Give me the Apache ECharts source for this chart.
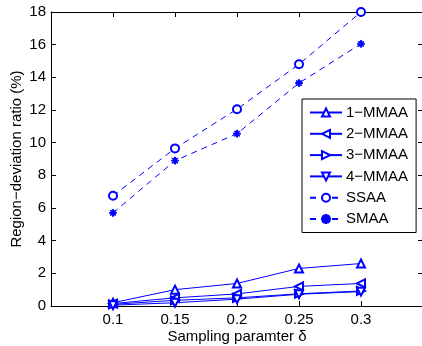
<!DOCTYPE html>
<html>
<head>
<meta charset="utf-8">
<script src="https://cdn.jsdelivr.net/npm/echarts@6/dist/echarts.min.js"></script>
<style>
html,body{margin:0;padding:0;background:#fff;}
#chart{width:422px;height:346px;}
</style>
</head>
<body>
<div id="chart"></div>
<script>
// ---- data ----
var xValues = [0.1, 0.15, 0.2, 0.25, 0.3];
var seriesNames = ['1\u2212MMAA', '2\u2212MMAA', '3\u2212MMAA', '4\u2212MMAA', 'SSAA', 'SMAA'];
var mmaa1 = [0.2, 1.0, 1.38, 2.3, 2.6];
var mmaa2 = [0.15, 0.5, 0.74, 1.2, 1.38];
var mmaa3 = [0.1, 0.35, 0.5, 0.75, 0.92];
var mmaa4 = [0.05, 0.2, 0.42, 0.72, 0.88];
var ssaa = [6.75, 9.65, 12.05, 14.8, 18.0];
var smaa = [5.7, 8.9, 10.55, 13.65, 16.05];
var xTicks = [0.1, 0.15, 0.2, 0.25, 0.3];
var yTicks = [0, 2, 4, 6, 8, 10, 12, 14, 16, 18];

// asterisk symbol shape
function asteriskPath() {
  var L = 10, w = 1.3, parts = [];
  [0, 45, 90, 135].forEach(function (deg) {
    var a = deg * Math.PI / 180, c = Math.cos(a), s = Math.sin(a);
    var p = [[-L, -w], [L, -w], [L, w], [-L, w]].map(function (q) {
      return (q[0] * c - q[1] * s).toFixed(2) + ',' + (q[0] * s + q[1] * c).toFixed(2);
    });
    parts.push('M' + p[0] + 'L' + p[1] + 'L' + p[2] + 'L' + p[3] + 'Z');
  });
  return 'path://' + parts.join('');
}

function pairs(arr) { return xValues.map(function (x, i) { return [x, arr[i]]; }); }

var BLUE = '#0000ff';
var FONT = 'Liberation Sans';
var defs = [
  { data: mmaa1, symbol: 'emptyTriangle', rot: 0, size: 8, dash: 'solid' },
  { data: mmaa2, symbol: 'emptyTriangle', rot: 90, size: 8, dash: 'solid' },
  { data: mmaa3, symbol: 'emptyTriangle', rot: -90, size: 8, dash: 'solid' },
  { data: mmaa4, symbol: 'emptyTriangle', rot: 180, size: 8, dash: 'solid' },
  { data: ssaa, symbol: 'emptyCircle', rot: 0, size: 8, dash: [6, 5] },
  { data: smaa, symbol: asteriskPath(), rot: 0, size: 7, dash: [6, 5] }
];

var series = defs.map(function (d, i) {
  return {
    name: seriesNames[i],
    type: 'line',
    data: pairs(d.data),
    symbol: d.symbol,
    symbolRotate: d.rot,
    symbolSize: d.size,
    showAllSymbol: true,
    lineStyle: { color: BLUE, width: 1, type: d.dash },
    itemStyle: { color: BLUE, borderColor: BLUE, borderWidth: 1 },
    emphasis: { disabled: true },
    animation: false,
    z: 2
  };
});

var chart = echarts.init(document.getElementById('chart'), null, { renderer: 'canvas' });
var axisCommon = {
  axisLine: { show: true, onZero: false, lineStyle: { color: '#000', width: 1 } },
  axisTick: { show: true, inside: true, length: 5, lineStyle: { color: '#000' } },
  splitLine: { show: false }
};
chart.setOption({
  backgroundColor: '#fff',
  animation: false,
  textStyle: { fontFamily: FONT },
  grid: { left: 51, right: -1, top: 12, bottom: 40, containLabel: false, outerBoundsMode: 'none' },
  legend: {
    orient: 'vertical',
    left: 302, top: 99,
    data: seriesNames,
    backgroundColor: '#fff',
    borderColor: '#000', borderWidth: 1, borderRadius: 0,
    padding: [6, 8, 6, 7],
    itemWidth: 32, itemHeight: 10, itemGap: 6.3,
    textStyle: { fontFamily: FONT, fontSize: 15, color: '#000', padding: [0, 0, 0, -1] },
    z: 10
  },
  xAxis: [
    Object.assign({}, axisCommon, {
      type: 'value', min: 0.05, max: 0.35, interval: 0.05, position: 'bottom',
      name: 'Sampling paramter \u03b4', nameLocation: 'middle', nameGap: 23,
      nameMoveOverlap: false,
      nameTextStyle: { fontFamily: FONT, fontSize: 15, color: '#000' },
      axisLabel: {
        show: true, margin: 6, fontFamily: FONT, fontSize: 15, color: '#000',
        formatter: function (v) {
          var r = Math.round(v * 100) / 100;
          return xTicks.indexOf(r) >= 0 ? String(r) : '';
        }
      }
    }),
    Object.assign({}, axisCommon, {
      type: 'value', min: 0.05, max: 0.35, interval: 0.05, position: 'top',
      axisLabel: { show: false }
    })
  ],
  yAxis: [
    Object.assign({}, axisCommon, {
      type: 'value', min: 0, max: 18, interval: 2, position: 'left',
      name: 'Region\u2212deviation ratio (%)', nameLocation: 'middle', nameGap: 27,
      nameMoveOverlap: false,
      nameTextStyle: { fontFamily: FONT, fontSize: 15, color: '#000' },
      axisLabel: {
        show: true, margin: 5, fontFamily: FONT, fontSize: 15, color: '#000',
        formatter: function (v) { return yTicks.indexOf(v) >= 0 ? String(v) : ''; }
      }
    }),
    Object.assign({}, axisCommon, {
      type: 'value', min: 0, max: 18, interval: 2, position: 'right',
      axisLabel: { show: false }
    })
  ],
  series: series
});
</script>
</body>
</html>
